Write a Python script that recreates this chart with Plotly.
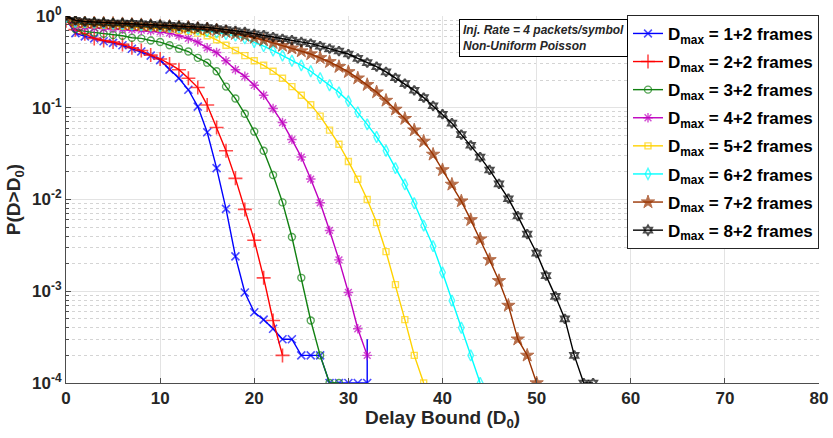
import plotly.graph_objects as go

# ---------------- data ----------------
x_d1 = list(range(0, 33)) + [32]
y_d1 = [0.92, 0.65, 0.60, 0.57, 0.53, 0.51, 0.48, 0.44, 0.41, 0.37, 0.33, 0.26, 0.21, 0.157,
        0.103, 0.054, 0.022, 0.0079, 0.0024, 0.00097, 0.00059, 0.00049, 0.00039, 0.0003,
        0.0003, 0.0002, 0.0002, 0.0002, 0.0001, 0.0001, 0.0001, 0.0001, 0.0001, 0.0003]

x_d2 = list(range(0, 24))
y_d2 = [0.89, 0.71, 0.64, 0.57, 0.54, 0.52, 0.49, 0.45, 0.42, 0.375, 0.34, 0.30, 0.26, 0.21,
        0.166, 0.107, 0.061, 0.034, 0.017, 0.0078, 0.0036, 0.0014, 0.00048, 0.0002]

x_d3 = list(range(0, 30))
y_d3 = [0.93, 0.72, 0.68, 0.66, 0.64, 0.62, 0.61, 0.58, 0.57, 0.54, 0.52, 0.48, 0.44, 0.41,
        0.35, 0.31, 0.25, 0.17, 0.126, 0.086, 0.055, 0.034, 0.0185, 0.0093, 0.0039, 0.0014,
        0.00048, 0.0002, 0.0001, 0.0001]

x_d4 = list(range(0, 33))
y_d4 = [0.95, 0.76, 0.75, 0.74, 0.73, 0.73, 0.72, 0.71, 0.70, 0.69, 0.67, 0.65, 0.61, 0.57,
        0.52, 0.45, 0.40, 0.325, 0.26, 0.22, 0.176, 0.137, 0.098, 0.069, 0.045, 0.029,
        0.0167, 0.0092, 0.0046, 0.0022, 0.00097, 0.00039, 0.0002]

x_d5 = list(range(0, 39))
y_d5 = [0.96, 0.82, 0.81, 0.80, 0.79, 0.78, 0.77, 0.77, 0.76, 0.75, 0.74, 0.72, 0.70, 0.68,
        0.65, 0.61, 0.55, 0.48, 0.42, 0.37, 0.325, 0.29, 0.25, 0.21, 0.17, 0.137, 0.108,
        0.081, 0.057, 0.040, 0.026, 0.0166, 0.010, 0.0056, 0.0027, 0.00118, 0.00049,
        0.0002, 0.0001]

x_d6 = list(range(0, 45))
y_d6 = [0.97, 0.86, 0.85, 0.84, 0.83, 0.82, 0.81, 0.80, 0.79, 0.78, 0.77, 0.76, 0.75, 0.73,
        0.71, 0.685, 0.66, 0.635, 0.61, 0.57, 0.52, 0.47, 0.42, 0.37, 0.325, 0.29, 0.25,
        0.21, 0.176, 0.147, 0.118, 0.089, 0.066, 0.048, 0.034, 0.022, 0.0146, 0.0091,
        0.0052, 0.0031, 0.0016, 0.00079, 0.0004, 0.0002, 0.0001]

x_d7 = list(range(0, 51))
y_d7 = [0.98, 0.88, 0.86, 0.85, 0.84, 0.83, 0.82, 0.81, 0.80, 0.79, 0.78, 0.77, 0.76, 0.75,
        0.73, 0.72, 0.70, 0.67, 0.64, 0.61, 0.58, 0.545, 0.51, 0.475, 0.445, 0.415, 0.385,
        0.35, 0.317, 0.28, 0.246, 0.21, 0.178, 0.148, 0.12, 0.096, 0.076, 0.057, 0.043,
        0.031, 0.021, 0.0146, 0.0096, 0.006, 0.0037, 0.0022, 0.0013, 0.0007, 0.0003,
        0.0002, 0.0001]

x_d8 = list(range(0, 57))
y_d8 = [1.0, 0.90, 0.87, 0.86, 0.85, 0.84, 0.84, 0.83, 0.82, 0.81, 0.80, 0.79, 0.78, 0.77,
        0.76, 0.75, 0.73, 0.71, 0.69, 0.67, 0.64, 0.62, 0.59, 0.565, 0.545, 0.52, 0.50,
        0.47, 0.44, 0.415, 0.385, 0.345, 0.31, 0.28, 0.246, 0.212, 0.183, 0.155, 0.129,
        0.105, 0.085, 0.068, 0.051, 0.039, 0.029, 0.021, 0.0148, 0.0102, 0.0066, 0.0042,
        0.0026, 0.00148, 0.00088, 0.0005, 0.0002, 0.0001, 0.0001]

series_labels = ["1+2", "2+2", "3+2", "4+2", "5+2", "6+2", "7+2", "8+2"]
x_ticks = [0, 10, 20, 30, 40, 50, 60, 70, 80]
y_ticks = [1e-4, 1e-3, 1e-2, 1e-1, 1]
y_tick_text = ["10<sup>-4</sup>", "10<sup>-3</sup>", "10<sup>-2</sup>", "10<sup>-1</sup>", "10<sup>0</sup>"]
y_minor = [m * d for d in [1e-4, 1e-3, 1e-2, 1e-1] for m in range(2, 10)]

# ---------------- styles ----------------
styles = [
    dict(color="#0000FF", symbol="x-thin-open", size=8, lw=1.6),
    dict(color="#FF0000", symbol="cross-thin-open", size=10, lw=1.6),
    dict(color="#118011", symbol="circle-open", size=7, lw=1.4),
    dict(color="#BF00BF", symbol="asterisk-open", size=8, lw=1.4),
    dict(color="#FFD200", symbol="square-open", size=6, lw=1.4),
    dict(color="#00FFFF", symbol="diamond-tall-open", size=8, lw=1.4),
    dict(color="#993300", symbol="star", size=10, lw=1),
    dict(color="#000000", symbol="hexagram-open", size=7, lw=2),
]

xs = [x_d1, x_d2, x_d3, x_d4, x_d5, x_d6, x_d7, x_d8]
ys = [y_d1, y_d2, y_d3, y_d4, y_d5, y_d6, y_d7, y_d8]

FONT = "Liberation Sans, Arial, Helvetica, sans-serif"
fig = go.Figure()
for i, (xx, yy, st, lab) in enumerate(zip(xs, ys, styles, series_labels)):
    sizes = [st["size"]] * len(xx)
    if i == 0:
        sizes[-1] = 0
    fig.add_trace(go.Scatter(
        x=xx, y=yy, mode="lines+markers",
        name=f"D<sub>max</sub> = {lab} frames",
        legendgroup=f"g{i}",
        line=dict(color=st["color"], width=1.4),
        marker=dict(symbol=st["symbol"], size=sizes, color=st["color"],
                    line=dict(color=st["color"], width=st["lw"])),
        cliponaxis=True,
    ))

fig.update_layout(
    width=833, height=438,
    margin=dict(l=66, r=14, t=16, b=55),
    paper_bgcolor="white", plot_bgcolor="white",
    font=dict(family=FONT, color="#262626"),
    showlegend=True,
    legend=dict(
        x=1, y=1.003, xanchor="right", yanchor="top",
        bgcolor="white", bordercolor="#262626", borderwidth=1,
        font=dict(size=17, family=FONT, color="#000000", weight="bold"),
        tracegroupgap=3, itemwidth=30, maxheight=400,
    ),
    xaxis=dict(
        range=[0, 80], tickvals=x_ticks, ticktext=[str(v) for v in x_ticks],
        automargin=False,
        showgrid=True, gridcolor="#e3e3e3", gridwidth=1,
        zeroline=False, showline=True, linecolor="#4d4d4d", linewidth=1,
        ticks="inside", ticklen=5, tickcolor="#4d4d4d",
        tickfont=dict(size=17, family=FONT, color="#262626", weight="bold"),
    ),
    yaxis=dict(
        type="log", range=[-4, 0], tickvals=y_ticks, ticktext=y_tick_text,
        automargin=False,
        showgrid=True, gridcolor="#e3e3e3", gridwidth=1,
        zeroline=False, showline=True, linecolor="#4d4d4d", linewidth=1,
        ticks="inside", ticklen=5, tickcolor="#4d4d4d",
        minor=dict(tickmode="array", tickvals=y_minor,
                   showgrid=True, gridcolor="#d4d4d4", griddash="dot",
                   ticks="inside", ticklen=3, tickcolor="#4d4d4d"),
        tickfont=dict(size=17, family=FONT, color="#262626", weight="bold"),
        title=dict(text="P(D>D<sub>0</sub>)", standoff=6,
                   font=dict(size=19, family=FONT, color="#262626", weight="bold")),
    ),
    annotations=[
        dict(
            xref="paper", yref="paper", x=0.7465, y=0.992, xanchor="right", yanchor="top",
            text="<b><i>Inj. Rate = 4 packets/symbol</i></b><br><b><i>Non-Uniform Poisson</i></b>",
            showarrow=False, align="left",
            font=dict(size=12, family=FONT, color="#262626"),
            bgcolor="white", bordercolor="#000000", borderwidth=1, borderpad=3,
        ),
        dict(
            xref="paper", yref="paper", x=0.5, y=-0.06, xanchor="center", yanchor="top",
            text="Delay Bound (D<sub>0</sub>)", showarrow=False,
            font=dict(size=19, family=FONT, color="#262626", weight="bold"),
        ),
    ],
)

fig.write_html("out.html", config={"displayModeBar": False},
               post_script="document.body.style.margin='0';document.body.style.overflow='hidden';")
